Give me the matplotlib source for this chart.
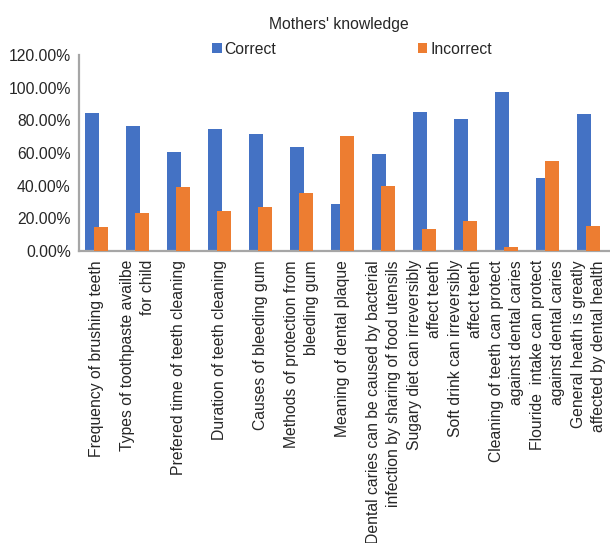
import matplotlib.pyplot as plt
import numpy as np
from matplotlib.ticker import PercentFormatter

plt.rcParams['font.family'] = ['Liberation Sans', 'DejaVu Sans']

categories = [
    "Frequency of brushing teeth",
    "Types of toothpaste availbe\nfor child",
    "Prefered time of teeth cleaning",
    "Duration of teeth cleaning",
    "Causes of bleeding gum",
    "Methods of protection from\nbleeding gum",
    "Meaning of dental plaque",
    "Dental caries can be caused by bacterial\ninfection by sharing of food utensils",
    "Sugary diet can irreversibly\naffect teeth",
    "Soft drink can irreversibly\naffect teeth",
    "Cleaning of teeth can protect\nagainst dental caries",
    "Flouride  intake can protect\nagainst dental caries",
    "General heath is greatly\naffected by dental health",
]
correct = [84.5, 76.5, 60.5, 74.5, 71.5, 63.5, 29.0, 59.2, 85.2, 80.8, 97.5, 44.5, 84.0]
incorrect = [15.0, 23.0, 39.0, 24.5, 27.0, 35.7, 70.3, 40.0, 13.5, 18.5, 2.5, 55.0, 15.5]

blue = "#4472C4"
orange = "#ED7D31"
text_col = "#262626"

fig = plt.figure(figsize=(6.1, 5.43), dpi=100)
ax = fig.add_axes([79 / 610, 1 - 251 / 543, 1 - 79 / 610, (251 - 55) / 543])

x = np.arange(len(categories))
ax.bar(x - 0.11, correct, width=0.34, color=blue, label="Correct", zorder=2)
ax.bar(x + 0.11, incorrect, width=0.34, color=orange, label="Incorrect", zorder=3)

ax.set_xlim(-0.43, 12.52)
ax.set_ylim(0, 120)
ax.set_yticks(np.arange(0, 121, 20))
ax.yaxis.set_major_formatter(PercentFormatter(xmax=100, decimals=2))
ax.set_xticks(x)
ax.set_xticklabels(categories, rotation=90, ha="center", va="top",
                   multialignment="right", linespacing=1.4)

ax.tick_params(axis="y", length=0, pad=6, labelsize=11.3, labelcolor=text_col)
ax.tick_params(axis="x", length=0, pad=6.5, labelsize=11.3, labelcolor=text_col)

for s in ["top", "right"]:
    ax.spines[s].set_visible(False)
for s in ["left", "bottom"]:
    ax.spines[s].set_color("#A6A6A6")
    ax.spines[s].set_linewidth(1.6)

fig.text(339 / 610, 1 - 24 / 543, "Mothers' knowledge", ha="center", va="center",
         fontsize=11.3, color=text_col)

ax.legend(loc="center", bbox_to_anchor=(352 / 610, 1 - 49 / 543),
          bbox_transform=fig.transFigure, ncol=2, frameon=False,
          fontsize=11.3, handlelength=0.6, handleheight=0.6,
          handletextpad=0.2, columnspacing=9.0, labelcolor=text_col)

fig.savefig("out.png", dpi=100)
